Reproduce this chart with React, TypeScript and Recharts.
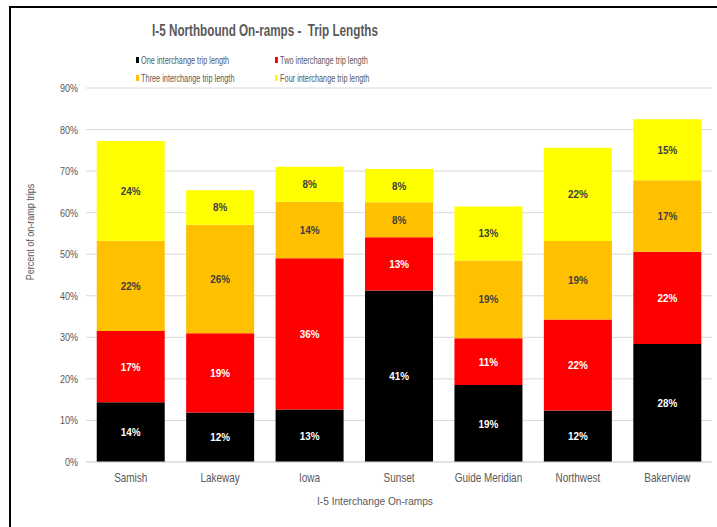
import { Bar, BarChart, CartesianGrid, LabelList, XAxis, YAxis } from "recharts";

const ramps = ["Samish", "Lakeway", "Iowa", "Sunset", "Guide Meridian", "Northwest", "Bakerview"];
const oneInterchange = [14.35, 11.9, 12.65, 41.3, 18.5, 12.4, 28.4];
const twoInterchange = [17.2, 19.1, 36.4, 12.8, 11.3, 21.9, 22.2];
const threeInterchange = [21.7, 26.1, 13.6, 8.4, 18.7, 18.9, 17.2];
const fourInterchange = [24.0, 8.3, 8.4, 8.0, 13.0, 22.4, 14.7];
const yTicks = [0, 10, 20, 30, 40, 50, 60, 70, 80, 90];

const series = [
  { key: "one", name: "One interchange trip length", values: oneInterchange, color: "#000000", text: "#ffffff" },
  { key: "two", name: "Two interchange trip length", values: twoInterchange, color: "#ff0000", text: "#ffffff" },
  { key: "three", name: "Three interchange trip length", values: threeInterchange, color: "#ffc000", text: "#404040" },
  { key: "four", name: "Four interchange trip length", values: fourInterchange, color: "#ffff00", text: "#404040" },
];

const data = ramps.map((name, i) => {
  const row: Record<string, string | number> = { name };
  series.forEach((s) => {
    row[s.key] = s.values[i];
  });
  return row;
});

const font = "'Liberation Sans', Arial, sans-serif";
const gray = "#595959";

function XTick(props: any) {
  const { x, y, payload } = props;
  return (
    <text
      transform={`translate(${x},${y + 12}) scale(0.83,1)`}
      textAnchor="middle"
      fontSize={12}
      fill={gray}
      fontFamily={font}
    >
      {payload.value}
    </text>
  );
}

function YTick(props: any) {
  const { x, y, payload } = props;
  return (
    <text
      transform={`translate(${x},${y + 4}) scale(0.82,1)`}
      textAnchor="end"
      fontSize={11}
      fill={gray}
      fontFamily={font}
    >
      {`${payload.value}%`}
    </text>
  );
}

const makeLabel = (color: string) => (props: any) => {
  const { x, y, width, height, value } = props;
  return (
    <text
      transform={`translate(${Number(x) + Number(width) / 2},${Number(y) + Number(height) / 2 + 4}) scale(0.9,1)`}
      textAnchor="middle"
      fontSize={11}
      fontWeight="bold"
      fill={color}
      fontFamily={font}
    >
      {`${Math.round(Number(value))}%`}
    </text>
  );
};

export default function App() {
  return (
    <div
      style={{
        position: "absolute",
        left: 0,
        top: 0,
        width: 717,
        height: 527,
        overflow: "hidden",
        background: "#fff",
        fontFamily: font,
      }}
    >
      <div
        style={{
          position: "absolute",
          left: 9,
          top: 6,
          width: 740,
          height: 560,
          border: "2px solid #000",
        }}
      />
      <div
        style={{
          position: "absolute",
          left: 265,
          top: 22,
          fontSize: 16,
          fontWeight: "bold",
          color: gray,
          whiteSpace: "nowrap",
          transform: "translateX(-50%) scaleX(0.73)",
        }}
      >
        I-5 Northbound On-ramps -&nbsp; Trip Lengths
      </div>
      {series.map((s, i) => (
        <div
          key={s.key}
          style={{
            position: "absolute",
            left: i % 2 === 0 ? 136 : 275,
            top: i < 2 ? 54 : 72,
            height: 12,
            fontSize: 10,
            color: gray,
            display: "flex",
            alignItems: "center",
            whiteSpace: "nowrap",
            transform: "scaleX(0.73)",
            transformOrigin: "left center",
          }}
        >
          <span style={{ display: "inline-block", width: 4, height: 6, background: s.color, marginRight: 3 }} />
          {s.name}
        </div>
      ))}
      <div
        style={{
          position: "absolute",
          left: 30,
          top: 232,
          fontSize: 10,
          color: gray,
          whiteSpace: "nowrap",
          transform: "translate(-50%, -50%) rotate(-90deg) scaleX(0.9)",
        }}
      >
        Percent of on-ramp trips
      </div>
      <div
        style={{
          position: "absolute",
          left: 375,
          top: 501,
          fontSize: 11,
          color: gray,
          whiteSpace: "nowrap",
          transform: "translate(-50%, -50%) scaleX(0.92)",
        }}
      >
        I-5 Interchange On-ramps
      </div>
      <div style={{ position: "absolute", left: 0, top: 0 }}>
        <BarChart
          width={717}
          height={527}
          data={data}
          margin={{ top: 88, right: 5, bottom: 35, left: 0 }}
          barCategoryGap="12%"
        >
          <CartesianGrid vertical={false} stroke="#d9d9d9" />
          <XAxis
            dataKey="name"
            tickLine={false}
            axisLine={{ stroke: "#d9d9d9" }}
            tick={<XTick />}
            height={30}
            interval={0}
          />
          <YAxis
            width={86}
            domain={[0, 90]}
            ticks={yTicks}
            tickLine={false}
            axisLine={false}
            tick={<YTick />}
          />
          {series.map((s) => (
            <Bar key={s.key} dataKey={s.key} name={s.name} stackId="a" fill={s.color} isAnimationActive={false}>
              <LabelList dataKey={s.key} content={makeLabel(s.text)} />
            </Bar>
          ))}
        </BarChart>
      </div>
    </div>
  );
}
